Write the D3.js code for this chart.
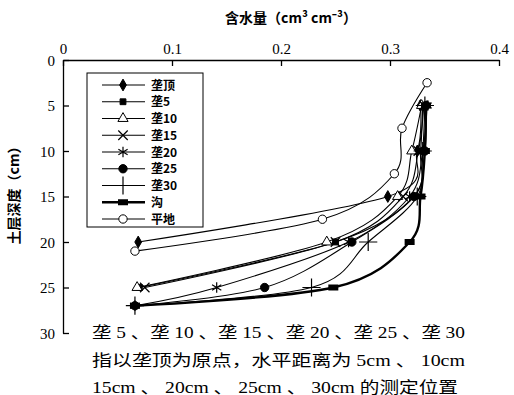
<!DOCTYPE html>
<html><head><meta charset="utf-8">
<script src="https://cdn.jsdelivr.net/npm/d3@7"></script>
<style>body{margin:0;background:#fff}
.tk{font-family:"Liberation Serif","DejaVu Serif",serif !important;}
</style>
</head><body>
<svg id="c" width="514" height="395"></svg>
<script>
const seriesNames = ["垄顶","垄5","垄10","垄15","垄20","垄25","垄30","沟","平地"];
const depths = {
  "垄顶":[5,10,15,20],
  "垄5":[5,10,15,20,25],
  "垄10":[5,10,15,20,25],
  "垄15":[5,10,15,20,25],
  "垄20":[5,10,15,20,25,27],
  "垄25":[5,10,15,20,25,27],
  "垄30":[5,10,15,20,25,27],
  "沟":[5,10,15,20,25,27],
  "平地":[2.5,7.5,12.5,17.5,21]
};
const moisture = {
  "垄顶":[0.328,0.325,0.298,0.069],
  "垄5":[0.330,0.328,0.322,0.250,0.070],
  "垄10":[0.329,0.320,0.307,0.242,0.068],
  "垄15":[0.331,0.326,0.312,0.250,0.075],
  "垄20":[0.334,0.330,0.318,0.262,0.141,0.066],
  "垄25":[0.333,0.332,0.322,0.265,0.185,0.066],
  "垄30":[0.332,0.330,0.325,0.280,0.228,0.066],
  "沟":[0.333,0.332,0.328,0.318,0.248,0.066],
  "平地":[0.334,0.311,0.304,0.238,0.066]
};
const xTicks = [0,0.1,0.2,0.3,0.4];
const yTicks = [0,5,10,15,20,25,30];
const xTitle = "含水量（cm³ cm⁻³）";
const yTitle = "土层深度（cm）";
const note = ["垄 5 、垄 10 、垄 15 、垄 20 、垄 25 、垄 30",
              "指以垄顶为原点，水平距离为 5cm 、 10cm",
              "15cm 、 20cm 、 25cm 、 30cm 的测定位置"];

const svg = d3.select("#c");
const x = d3.scaleLinear().domain([0,0.4]).range([63,499]);
const y = d3.scaleLinear().domain([0,30]).range([60,333]);
const cjk = "'Noto Sans CJK SC',sans-serif";

// axes
const xa = svg.append("g").attr("transform","translate(0,60)")
  .call(d3.axisTop(x).tickValues(xTicks).tickFormat(d=>d===0?"0":d3.format(".1f")(d)).tickSizeInner(-6).tickSizeOuter(0).tickPadding(0));
xa.attr("font-family",null);
xa.select(".domain").attr("stroke","#000").attr("stroke-width",1.3);
xa.selectAll(".tick line").attr("stroke","#000").attr("stroke-width",1.3);
xa.selectAll(".tick text").attr("class","tk").attr("font-size",15).attr("fill","#000").attr("y",-6).attr("dy",0);

const ya = svg.append("g").attr("transform","translate(63,0)")
  .call(d3.axisLeft(y).tickValues(yTicks).tickSizeInner(-6).tickSizeOuter(0).tickPadding(0));
ya.attr("font-family",null);
ya.select(".domain").attr("stroke","#000").attr("stroke-width",1.3);
ya.selectAll(".tick line").attr("stroke","#000").attr("stroke-width",1.3);
ya.selectAll(".tick text").attr("class","tk").attr("font-size",15).attr("fill","#000").attr("x",-8).attr("dy","0.35em");

svg.append("text").attr("x",291).attr("y",23).attr("text-anchor","middle")
  .attr("font-family",cjk).attr("font-size",14).attr("font-weight","bold").text(xTitle);
svg.append("text").attr("transform","translate(19,192) rotate(-90)").attr("text-anchor","middle")
  .attr("font-family",cjk).attr("font-size",14).attr("font-weight","bold").text(yTitle);

// markers
const markerDef = {
  "垄顶":{type:d3.symbolDiamond,size:40,fill:"#000"},
  "垄5":{type:d3.symbolSquare,size:34,fill:"#000"},
  "垄10":{type:d3.symbolTriangle,size:45,fill:"#fff"},
  "垄15":{type:d3.symbolTimes,size:60,fill:"none"},
  "垄20":{type:d3.symbolAsterisk,size:80,fill:"none"},
  "垄25":{type:d3.symbolCircle,size:55,fill:"#000"},
  "垄30":{type:d3.symbolPlus,size:110,fill:"none"},
  "沟":{type:"rect",fill:"#000"},
  "平地":{type:d3.symbolCircle,size:55,fill:"#fff"}
};
function drawMarker(g, name, cx, cy){
  const m = markerDef[name];
  if(m.type==="rect"){
    g.append("rect").attr("x",cx-5).attr("y",cy-3).attr("width",10).attr("height",6).attr("fill","#000");
    return;
  }
  g.append("path").attr("d",d3.symbol().type(m.type).size(m.size)())
    .attr("transform",`translate(${cx},${cy})`)
    .attr("fill",m.fill).attr("stroke","#000").attr("stroke-width",m.fill==="none"?1.2:1);
}

const line = d3.line().x(d=>x(d[0])).y(d=>y(d[1])).curve(d3.curveCardinal.tension(0));
const plot = svg.append("g");
seriesNames.forEach(name=>{
  const pts = moisture[name].map((v,i)=>[v,depths[name][i]]);
  plot.append("path").datum(pts).attr("d",line).attr("fill","none")
    .attr("stroke","#000").attr("stroke-width",name==="沟"?2.4:1.1);
});
seriesNames.forEach(name=>{
  const g = plot.append("g");
  moisture[name].forEach((v,i)=>drawMarker(g,name,x(v),y(depths[name][i])));
});

// legend
const lg = svg.append("g");
lg.append("rect").attr("x",87).attr("y",73).attr("width",116).attr("height",154)
  .attr("fill","#fff").attr("stroke","#000").attr("stroke-width",1);
seriesNames.forEach((name,i)=>{
  const cy = 85 + i*16.75;
  lg.append("line").attr("x1",102).attr("x2",145).attr("y1",cy).attr("y2",cy)
    .attr("stroke","#000").attr("stroke-width",name==="沟"?2.4:1.1);
  drawMarker(lg,name,123,cy);
  lg.append("text").attr("x",151).attr("y",cy+4.5)
    .attr("font-family",cjk).attr("font-size",12).attr("font-weight","bold").text(name);
});

// note
const noteLen = [373,373,366];
note.forEach((t,i)=>{
  svg.append("text").attr("x",92).attr("y",338 + i*27.5)
    .attr("font-family","'Liberation Serif','Noto Sans CJK SC',serif").attr("font-size",16)
    .attr("textLength", noteLen[i]).attr("lengthAdjust","spacingAndGlyphs").text(t);
});
</script>
</body></html>
